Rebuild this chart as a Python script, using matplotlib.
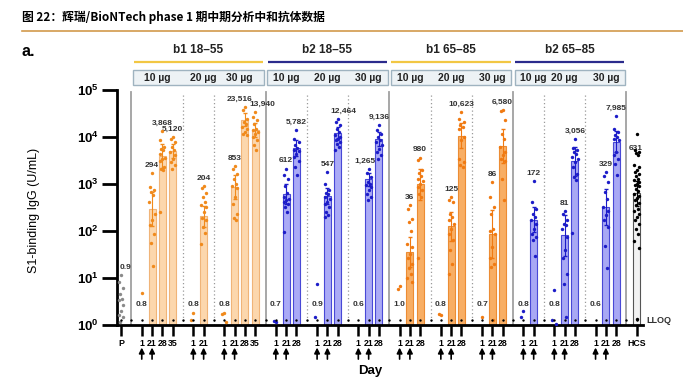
import matplotlib.pyplot as plt
import numpy as np
from matplotlib.patches import Rectangle
from matplotlib.lines import Line2D
from matplotlib.ticker import NullLocator

plt.rcParams['font.family'] = ['Liberation Sans', 'DejaVu Sans']
plt.rcParams['mathtext.fontset'] = 'custom'
plt.rcParams['mathtext.bf'] = 'Liberation Sans:bold'
plt.rcParams['mathtext.rm'] = 'Liberation Sans'

LLOQ = 1.27

groups = ["b1 18–55", "b2 18–55", "b1 65–85", "b2 65–85"]
doses = ["10 µg", "20 µg", "30 µg"]

# days sampled per dose arm
days_b1_young = [[1, 21, 28, 35], [1, 21], [1, 21, 28, 35]]
days_b2_young = [[1, 21, 28], [1, 21, 28], [1, 21, 28]]
days_b1_old = [[1, 21, 28], [1, 21, 28], [1, 21, 28]]
days_b2_old = [[1, 21], [1, 21, 28], [1, 21, 28]]

# geometric mean concentrations (bar heights / labels)
gmt_b1_young = [[0.8, 294, 3868, 5120], [0.8, 204], [0.8, 853, 23516, 13940]]
gmt_b2_young = [[0.7, 612, 5782], [0.9, 547, 12464], [0.6, 1265, 9136]]
gmt_b1_old = [[1.0, 36, 980], [0.8, 125, 10623], [0.7, 86, 6580]]
gmt_b2_old = [[0.8, 172], [0.8, 81, 3056], [0.6, 329, 7985]]

# individual participants
dots_b1_young = [
    [[4.8],
     [1700, 870, 740, 680, 575, 417, 234, 170, 132, 87, 55, 18],
     [13200, 8500, 6150, 5650, 5200, 4400, 3650, 3450, 3150, 2300, 2130, 1950, 250],
     [10000, 9100, 7800, 6100, 5200, 4800, 4100, 3450, 2950, 2500, 2130]],
    [[1.8, 1.3],
     [890, 810, 650, 525, 417, 355, 325, 251, 190, 170, 122, 91, 54]],
    [[1.8, 1.7, 1.15],
     [2400, 2130, 1620, 1290, 1020, 890, 830, 525, 380, 234, 190, 174],
     [43600, 37000, 24500, 20900, 19000, 16200, 15100, 12900, 11700, 10900],
     [34000, 27000, 22700, 19000, 15100, 13800, 12900, 11700, 10000, 8500, 6600, 5250]],
]
dots_b2_young = [
    [[1.15, 1.2],
     [2130, 1550, 1290, 890, 650, 525, 490, 447, 417, 380, 325, 251, 95],
     [14400, 9100, 7800, 6600, 5900, 5400, 5000, 4400, 3700, 3150, 2300, 1550]],
    [[7.4, 1.5],
     [1820, 1020, 740, 650, 600, 525, 468, 417, 372, 325, 251, 214, 200],
     [24500, 20900, 17800, 15100, 12900, 10900, 10000, 9100, 8500, 7800, 7200, 6150, 5250]],
    [[],
     [2130, 1700, 1400, 1100, 1020, 930, 870, 740, 620, 525, 447],
     [17800, 13800, 11700, 10000, 8500, 7800, 6600, 5650, 4800, 4100, 3450]],
]
dots_b1_old = [
    [[6.9, 5.9],
     [355, 295, 182, 155, 100, 54, 46, 33, 26, 20, 16, 12.3, 9.8, 8.1],
     [3650, 3300, 1950, 1700, 1450, 1290, 1150, 1020, 870, 740, 620, 525, 26]],
    [[1.6, 1.75],
     [525, 447, 417, 234, 200, 170, 144, 112, 87, 63, 39, 20, 12.3],
     [34000, 24500, 20900, 17800, 16200, 15100, 10000, 8500, 3450, 2950, 2500, 2300]],
    [[1.5],
     [1100, 525, 325, 234, 112, 100, 87, 46, 26, 20, 17, 1.26],
     [38000, 35500, 22700, 11700, 9100, 6150, 4800, 4100, 3450, 3150, 1290, 447]],
]
dots_b2_old = [
    [[2.0, 1.5],
     [1150, 417, 295, 234, 200, 170, 144, 112, 87, 74, 63, 30]],
    [[5.6, 1.26, 1.07],
     [270, 229, 170, 144, 132, 112, 74, 39, 26, 12.3, 7.6, 1.5],
     [9100, 5900, 5400, 4800, 4400, 3700, 3450, 2950, 2300, 1650, 1400, 1200, 91]],
    [[],
     [1820, 1450, 1100, 680, 468, 325, 270, 214, 170, 122, 47, 16],
     [27500, 15100, 12900, 10900, 10000, 9100, 8500, 4800, 4100, 3450, 2700, 1550]],
]

placebo_gmt = 0.9
placebo_dots = [11.5, 8.1, 6.2, 4.6, 3.6, 3.4, 2.6, 2.0, 1.6, 1.5, 1.15]
hcs_gmt = 631
hcs_dots = [11700, 5200, 4800, 4500, 4200, 2500, 2300, 2000, 1800, 1600, 1450, 1300,
            1200, 1100, 1000, 950, 900, 800, 700, 620, 560, 500, 450, 400, 350,
            300, 260, 230, 200, 170, 140, 110, 85, 60, 44, 1.35]

all_days = [days_b1_young, days_b2_young, days_b1_old, days_b2_old]
all_gmt = [gmt_b1_young, gmt_b2_young, gmt_b1_old, gmt_b2_old]
all_dots = [dots_b1_young, dots_b2_young, dots_b1_old, dots_b2_old]

bar_face = ['#fcd7ad', '#aaaaf6', '#f8ae64', '#a8a8f4']
bar_edge = ['#f0b478', '#4848d6', '#ec8c34', '#4848d6']
dot_col = ['#f08a1c', '#1c1cc8', '#f07a12', '#1c1cc8']
line_col = ['#f2c744', '#2b2b8c', '#f2c744', '#2b2b8c']
label_off = {'23,516': (-4, 3), '13,940': (5, 3), '12,464': (4, 3), '1,265': (-3, 3),
             '631': (-1, -13)}
jitter = [0, -0.2, 0.2, -0.1, 0.1, -0.25, 0.25]


def fmt(v):
    return f"{v:,.0f}" if v >= 10 else f"{v:.1f}"


def ci95(dots, g):
    lg = np.log10(dots)
    se = lg.std(ddof=1) / np.sqrt(len(lg))
    return g * 10 ** (-2.2 * se), g * 10 ** (2.2 * se)


fig = plt.figure(figsize=(6.83, 3.79), dpi=100)
ax = fig.add_axes([117 / 683, 54 / 379, 526 / 683, 235 / 379])
ax.set_yscale('log')
ax.set_ylim(1, 1e5)
ax.set_xlim(-0.4, 50.6)
trans = ax.get_xaxis_transform()


def draw_dots(x, vals, color, width=1.0):
    offs = [x + jitter[i % len(jitter)] * width for i in range(len(vals))]
    ax.scatter(offs, vals, s=6, color=color, zorder=5, linewidths=0)


def value_label(x, text, y=None, ymax=None, off=None):
    if y is not None:
        ax.text(x, y, text, ha='center', va='center', fontsize=6, weight='bold', color='#333333')
    else:
        dx, dy = off if off else label_off.get(text, (0, 3))
        ax.annotate(text, (x, ymax), xytext=(dx, dy), textcoords='offset points',
                    ha='center', va='bottom', fontsize=6, weight='bold', color='#333333')


ticks, tlabels, arrows = [0], ['P'], []
draw_dots(0, placebo_dots, '#8a8a8a', 0.8)
value_label(0, fmt(placebo_gmt), ymax=max(placebo_dots), off=(3, 3))

pos = 2
seps_solid, seps_dot = [1], []
for gi in range(4):
    for di in range(3):
        days = all_days[gi][di]
        xs = pos + np.arange(len(days))
        for k, d in enumerate(days):
            x = xs[k]
            g = all_gmt[gi][di][k]
            dots = all_dots[gi][di][k]
            ticks.append(x)
            tlabels.append(str(d))
            if d in (1, 21):
                arrows.append(x)
            if g > LLOQ:
                ax.bar(x, g - 1, bottom=1, width=0.68, color=bar_face[gi],
                       edgecolor=bar_edge[gi], linewidth=0.8, zorder=2)
                lo, hi = ci95(dots, g)
                ax.errorbar(x, g, yerr=[[g - lo], [hi - g]], fmt='none',
                            ecolor=dot_col[gi], elinewidth=0.8, capsize=1.5, zorder=4)
                value_label(x, fmt(g), ymax=max(dots))
            else:
                value_label(x, fmt(g), y=2.7)
            if dots:
                draw_dots(x, dots, dot_col[gi])
        label_c = xs[0] + (1.5 if len(days) == 4 else 1)
        ax.text(label_c, 1.051, doses[di], transform=trans, ha='center', va='center',
                fontsize=7.5, weight='bold', color='#222222')
        pos += len(days) + 1
        if di < 2:
            seps_dot.append(pos - 1)
    left, right = seps_solid[-1], pos - 1
    seps_solid.append(right)
    ax.add_patch(Rectangle((left + 0.15, 1.021), right - left - 0.3, 0.064, transform=trans,
                           facecolor='#edf2f5', edgecolor='#9fb3c0', lw=1, clip_on=False))
    ax.plot([left + 0.2, right - 0.2], [1.119, 1.119], transform=trans, color=line_col[gi],
            lw=1.6, clip_on=False, solid_capstyle='butt')
    ax.text((left + right) / 2, 1.17, groups[gi], transform=trans, ha='center', va='center',
            fontsize=8.5, weight='bold', color='#222222')

# HCS
hx = pos
ax.bar(hx, hcs_gmt - 1, bottom=1, width=0.68, color='#f2f2f2', edgecolor='#555555',
       linewidth=0.8, zorder=2)
lo, hi = ci95(hcs_dots, hcs_gmt)
ax.errorbar(hx, hcs_gmt, yerr=[[hcs_gmt - lo], [hi - hcs_gmt]], fmt='none', ecolor='k',
            elinewidth=0.8, capsize=1.5, zorder=4)
draw_dots(hx, hcs_dots, 'k', 0.9)
value_label(hx, fmt(hcs_gmt), ymax=max(hcs_dots))
ticks.append(hx)
tlabels.append('HCS')

for s in seps_solid:
    ax.axvline(s, ymin=0, ymax=0.99, color='#a0a0a0', lw=1.3, zorder=1)
for s in seps_dot:
    ax.axvline(s, ymin=0, ymax=0.98, color='#9a9a9a', lw=0.9, ls=(0, (1, 2)), zorder=1)

# LLOQ dotted line
ax.scatter(np.arange(0, hx + 1), np.full(hx + 1, LLOQ), s=3, color='k', zorder=6, linewidths=0)
ax.text(50.9, LLOQ, 'LLOQ', va='center', ha='left', fontsize=6.5, weight='bold',
        color='#333333', clip_on=False)

for a in arrows:
    ax.annotate('', xy=(a, -0.096), xytext=(a, -0.145), xycoords=trans, textcoords=trans,
                arrowprops=dict(arrowstyle='-|>', color='k', lw=1.2, mutation_scale=8,
                                shrinkA=0, shrinkB=0))

ax.set_xticks(ticks)
ax.set_xticklabels(tlabels, fontsize=6.3, weight='bold')
ax.set_yticks([1, 10, 100, 1e3, 1e4, 1e5])
ax.set_yticklabels([r'$\mathbf{10^{%d}}$' % k for k in range(6)], fontsize=9.5)
ax.yaxis.set_minor_locator(NullLocator())
ax.tick_params(axis='y', length=11, width=2, pad=2)
ax.tick_params(axis='x', length=8, width=1.8, pad=2)
for side in ['top', 'right']:
    ax.spines[side].set_visible(False)
for side in ['left', 'bottom']:
    ax.spines[side].set_linewidth(2)

fig.text(34 / 683, 1 - 210 / 379, 'S1-binding IgG (U/mL)', rotation=90, ha='center',
         va='center', fontsize=9)
fig.text(370 / 683, 1 - 371 / 379, 'Day', ha='center', va='center', fontsize=9.5, weight='bold')
fig.text(22 / 683, 1 - 52 / 379, 'a.', ha='left', va='center', fontsize=11.5, weight='bold')
fig.text(22 / 683, 1 - 17 / 379, '图 22：辉瑞/BioNTech phase 1 期中期分析中和抗体数据',
         ha='left', va='center', fontsize=8.5, weight='bold',
         family=['Noto Sans CJK SC', 'DejaVu Sans'])
fig.add_artist(Line2D([22 / 683, 1], [1 - 31 / 379] * 2, color='#d29a4c', lw=1.2))

fig.savefig('out.png', dpi=100)
